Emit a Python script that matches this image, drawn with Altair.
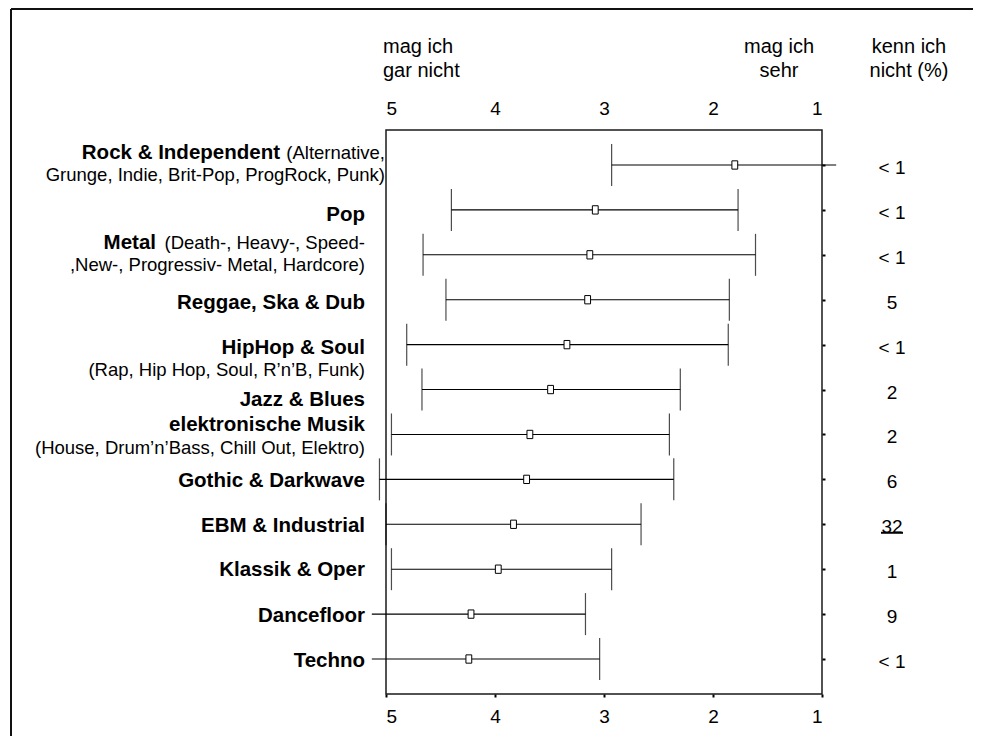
import altair as alt
import pandas as pd

# ---------------- data ----------------
categories = ["Rock & Independent", "Pop", "Metal", "Reggae, Ska & Dub",
              "HipHop & Soul", "Jazz & Blues", "elektronische Musik",
              "Gothic & Darkwave", "EBM & Industrial", "Klassik & Oper",
              "Dancefloor", "Techno"]
mean_rating = [1.80, 3.08, 3.13, 3.15, 3.34, 3.49, 3.68, 3.71, 3.83, 3.97, 4.22, 4.24]
# whisker end towards "mag ich gar nicht" (5) and towards "mag ich sehr" (1)
whisker_neg = [2.93, 4.40, 4.66, 4.45, 4.81, 4.67, 4.95, 5.06, 5.00, 4.95, 5.13, 5.13]
whisker_pos = [0.87, 1.77, 1.61, 1.85, 1.86, 2.30, 2.40, 2.36, 2.66, 2.93, 3.17, 3.04]
cap_neg = [True] * 10 + [False, False]      # end cap visible (not cut off)
cap_pos = [False] + [True] * 11
kenn_ich_nicht = ["< 1", "< 1", "< 1", "5", "< 1", "2", "2", "6", "32", "1", "9", "< 1"]
highlight = [False] * 8 + [True] + [False] * 3
inline_note = ["(Alternative,", "", "(Death-, Heavy-, Speed-", "", "", "", "", "", "", "", "", ""]
second_line = ["Grunge, Indie, Brit-Pop, ProgRock, Punk)", "",
               ",New-, Progressiv- Metal, Hardcore)", "",
               "(Rap, Hip Hop, Soul, R\u2019n\u2019B, Funk)", "",
               "(House, Drum\u2019n\u2019Bass, Chill Out, Elektro)", "", "", "", "", ""]
axis_ticks = [5, 4, 3, 2, 1]

# ---------------- layout / style ----------------
FONT = "Liberation Sans"
W, H = 436, 564
PAD = {"left": 378, "top": 122, "right": 151, "bottom": 42}
label_right = [-1] + [-21] * 11            # right edge of the row label (px from plot)
bold_end = [-106, None, -230] + [None] * 9  # right edge of bold part when a note follows
first_dy = [-6, 11, -6, 9, 9, 16, -3, 8, 8, 7, 8, 8]
LINE = 22.5

df = pd.DataFrame({
    "cat": categories, "mean": mean_rating, "neg": whisker_neg, "pos": whisker_pos,
    "capN": cap_neg, "capP": cap_pos, "unk": kenn_ich_nicht, "hl": highlight,
})

lines = []
for i, c in enumerate(categories):
    if inline_note[i]:
        lines.append({"cat": c, "txt": c, "bold": True, "rx": bold_end[i], "dy": first_dy[i]})
        lines.append({"cat": c, "txt": inline_note[i], "bold": False, "rx": label_right[i], "dy": first_dy[i]})
    else:
        lines.append({"cat": c, "txt": c, "bold": True, "rx": label_right[i], "dy": first_dy[i]})
    if second_line[i]:
        lines.append({"cat": c, "txt": second_line[i], "bold": False, "rx": label_right[i],
                      "dy": first_dy[i] + LINE})
lab = pd.DataFrame(lines)

xs = alt.Scale(domain=[1, 5], reverse=True, nice=False, zero=False)
ys = alt.Scale(type="point", domain=categories, padding=0.779)

bottom_axis = alt.Axis(orient="bottom", values=axis_ticks, format="d", domain=False, grid=False,
                       ticks=True, tickSize=3, tickWidth=2, tickColor="black",
                       labelFont=FONT, labelFontSize=19, labelColor="black", labelPadding=10,
                       labelFlush=True, labelOverlap=False, title=None)
top_axis = alt.Axis(orient="top", values=axis_ticks, format="d", domain=False, grid=False,
                    ticks=False, tickSize=0,
                    labelFont=FONT, labelFontSize=19, labelColor="black", labelPadding=12,
                    labelFlush=True, labelOverlap=False, title=None)
right_axis = alt.Axis(orient="right", labels=False, domain=False, grid=False, ticks=True,
                      tickSize=3, tickWidth=2, tickColor="black", title=None)

Y = lambda ax=None: alt.Y("cat:N", scale=ys, axis=ax)

whisk = alt.Chart(df).mark_rule(color="black", strokeWidth=1.1).encode(
    x=alt.X("neg:Q", scale=xs, axis=bottom_axis), x2="pos:Q", y=Y(right_axis))

cap_l = alt.Chart(df).transform_filter("datum.capN").mark_tick(
    size=42, thickness=1.2, color="black").encode(
    x=alt.X("neg:Q", scale=xs, axis=None), y=Y())
cap_r = alt.Chart(df).transform_filter("datum.capP").mark_tick(
    size=42, thickness=1.2, color="black").encode(
    x=alt.X("pos:Q", scale=xs, axis=None), y=Y())

means = alt.Chart(df).mark_point(
    shape="M-0.7,-1L0.7,-1L0.7,1L-0.7,1Z", size=69, filled=True, color="white",
    stroke="black", strokeWidth=1, opacity=1).encode(
    x=alt.X("mean:Q", scale=xs, axis=top_axis), y=Y())

bold_txt = alt.Chart(lab).transform_filter("datum.bold").mark_text(
    font=FONT, fontSize=20.5, fontWeight="bold", align="right", baseline="alphabetic",
    color="black").encode(
    x=alt.X("rx:Q", scale=None, axis=None), y=Y(),
    yOffset=alt.YOffset("dy:Q", scale=None), text="txt:N")
norm_txt = alt.Chart(lab).transform_filter("!datum.bold").mark_text(
    font=FONT, fontSize=18.5, align="right", baseline="alphabetic", color="black").encode(
    x=alt.X("rx:Q", scale=None, axis=None), y=Y(),
    yOffset=alt.YOffset("dy:Q", scale=None), text="txt:N")

unk_txt = alt.Chart(df).mark_text(
    font=FONT, fontSize=19, align="center", baseline="alphabetic", dy=9, color="black").encode(
    x=alt.value(506), y=Y(), text="unk:N")
underline = alt.Chart(df).transform_filter("datum.hl").mark_rule(
    color="black", strokeWidth=2, yOffset=8.5).encode(
    x=alt.value(495), x2=alt.value(517), y=Y())

one = pd.DataFrame({"k": [0]})
hdr_style = dict(font=FONT, fontSize=20, baseline="alphabetic", lineHeight=24, color="black")
hdr_left = alt.Chart(one).mark_text(text=["mag ich", "gar nicht"], align="left", **hdr_style).encode(
    x=alt.value(-3), y=alt.value(-77))
hdr_mid = alt.Chart(one).mark_text(text=["mag ich", "sehr"], align="center", **hdr_style).encode(
    x=alt.value(393), y=alt.value(-77))
hdr_right = alt.Chart(one).mark_text(text=["kenn ich", "nicht (%)"], align="center", **hdr_style).encode(
    x=alt.value(523), y=alt.value(-77))

border_left = alt.Chart(one).mark_rule(color="#111", strokeWidth=2).encode(
    x=alt.value(-375), y=alt.value(-121), y2=alt.value(H + PAD["bottom"]))
border_top = alt.Chart(one).mark_rule(color="#111", strokeWidth=2).encode(
    x=alt.value(-375), x2=alt.value(W + PAD["right"]), y=alt.value(-121))

chart = alt.layer(
    whisk, cap_l, cap_r, means, bold_txt, norm_txt, unk_txt, underline,
    hdr_left, hdr_mid, hdr_right, border_left, border_top
).resolve_axis(x="independent", y="independent").properties(
    width=W, height=H, padding=PAD, autosize=alt.AutoSizeParams(type="none"),
    background="white"
).configure_view(stroke="#1a1a1a", strokeWidth=1.5)

chart.save("out.html", embed_options={"renderer": "svg", "actions": False})
